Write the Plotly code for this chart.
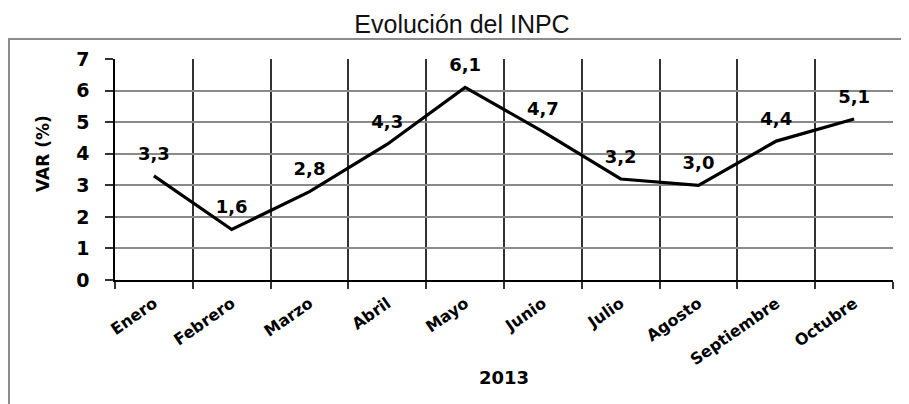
import plotly.graph_objects as go

meses = ["Enero", "Febrero", "Marzo", "Abril", "Mayo", "Junio", "Julio",
         "Agosto", "Septiembre", "Octubre"]
var_inpc = [3.3, 1.6, 2.8, 4.3, 6.1, 4.7, 3.2, 3.0, 4.4, 5.1]
y_ticks = [0, 1, 2, 3, 4, 5, 6, 7]
etiquetas = [f"{v:.1f}".replace(".", ",") for v in var_inpc]

# page has an 8px body margin; work in page coordinates and shift
OFF = 8
W, H = 909 - OFF, 404 - OFF
PL, PR, PT, PB = 115, 893, 59, 280          # plot area in page px
ML, MR, MT, MB = PL - OFF, W - (PR - OFF), PT - OFF, H - (PB - OFF)
PW, PH = PR - PL, PB - PT

def px_x(x):
    return (x - PL) / PW

def px_y(y):
    return (PB - y) / PH

BOLD = "DejaVu Sans"

fig = go.Figure()
fig.add_trace(go.Scatter(
    x=meses, y=var_inpc, mode="lines+markers+text",
    line=dict(color="black", width=3.2),
    marker=dict(size=17, color="rgba(0,0,0,0)"),
    text=etiquetas, textposition="top center",
    textfont=dict(family=BOLD, size=18, color="black", weight="bold"),
    cliponaxis=False, hoverinfo="skip", showlegend=False,
))

fig.update_layout(
    width=W, height=H,
    margin=dict(l=ML, r=MR, t=MT, b=MB, autoexpand=False),
    paper_bgcolor="white", plot_bgcolor="white",
    title=dict(text="Evolución del INPC", x=(462 - OFF) / W, xanchor="center",
               xref="container", y=(H - (24 - OFF)) / H, yanchor="middle",
               yref="container",
               font=dict(family="Liberation Sans", size=25, color="#111")),
    xaxis=dict(
        type="category", range=[-0.5, 9.5], tickson="boundaries",
        showgrid=True, gridcolor="#333333", gridwidth=1.5,
        showline=True, linecolor="black", linewidth=2,
        ticks="outside", ticklen=7, tickcolor="#333", tickwidth=1.5,
        tickangle=-35, ticklabelstandoff=6,
        tickfont=dict(family=BOLD, size=16, color="black", weight="bold"),
        automargin=False, fixedrange=True,
    ),
    yaxis=dict(
        range=[0, 7], tickvals=y_ticks, ticktext=[str(t) for t in y_ticks],
        showgrid=True, gridcolor="#8a8a8a", gridwidth=1.5,
        zeroline=False,
        showline=True, linecolor="black", linewidth=1.5,
        ticks="outside", ticklen=8, tickcolor="#333", tickwidth=1.5,
        ticklabelstandoff=12,
        tickfont=dict(family=BOLD, size=19, color="black", weight="bold"),
        automargin=False, fixedrange=True,
    ),
    annotations=[
        dict(text="VAR (%)", textangle=-90, x=px_x(43), y=px_y(154),
             xref="paper", yref="paper", showarrow=False,
             xanchor="center", yanchor="middle",
             font=dict(family=BOLD, size=17, color="black", weight="bold")),
        dict(text="2013", x=px_x(504), y=px_y(377),
             xref="paper", yref="paper", showarrow=False,
             xanchor="center", yanchor="middle",
             font=dict(family=BOLD, size=18, color="black", weight="bold")),
    ],
    shapes=[dict(type="rect", xref="paper", yref="paper",
                 x0=px_x(9), x1=px_x(920), y0=px_y(420), y1=px_y(39),
                 line=dict(color="#8c8c8c", width=2), layer="below")],
)

fig.write_html("out.html")
